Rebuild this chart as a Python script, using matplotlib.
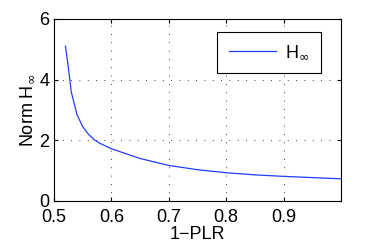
import numpy as np
import matplotlib
matplotlib.use("Agg")
import matplotlib.pyplot as plt

plt.rcParams['font.family'] = ['Liberation Sans', 'DejaVu Sans']

# data
plr = [0.52, 0.525, 0.53, 0.54, 0.55, 0.56, 0.57, 0.58, 0.6, 0.65, 0.7, 0.75, 0.8, 0.85, 0.9, 0.95, 1.0]
hinf = [5.1, 4.4, 3.6, 2.85, 2.45, 2.2, 2.02, 1.9, 1.72, 1.4, 1.17, 1.03, 0.93, 0.86, 0.81, 0.77, 0.73]
xticks = [0.5, 0.6, 0.7, 0.8, 0.9]
yticks = [0, 2, 4, 6]

fig = plt.figure(figsize=(3.76, 2.49), dpi=100)
ax = fig.add_axes([0.1436, 0.193, 0.763, 0.731])

ax.plot(plr, hinf, color="#1f3fff", lw=0.9, label=r"H$_{\infty}$")

ax.set_xlim(0.5, 1.0)
ax.set_ylim(0, 6)
ax.set_xticks(xticks)
ax.set_yticks(yticks)
ax.set_xticklabels(["0.5", "0.6", "0.7", "0.8", "0.9"])
ax.tick_params(direction="in", top=True, right=True, labelsize=13, length=3)
ax.tick_params(axis="x", pad=6)
ax.grid(True, color="black", linestyle=(0, (1, 9)), lw=0.6)

for s in ax.spines.values():
    s.set_linewidth(0.8)

ax.set_xlabel("1\u2212PLR", fontsize=13, labelpad=0)
ax.set_ylabel(r"Norm H$_{\infty}$", fontsize=13, labelpad=2)

leg = ax.legend(loc="upper right", fontsize=13, fancybox=False, framealpha=1,
                edgecolor="black", handlelength=2.6, borderpad=0.65,
                handletextpad=0.5, borderaxespad=0,
                bbox_to_anchor=(0.93, 0.929))
leg.get_frame().set_linewidth(0.8)

fig.savefig("out.png", dpi=100)
